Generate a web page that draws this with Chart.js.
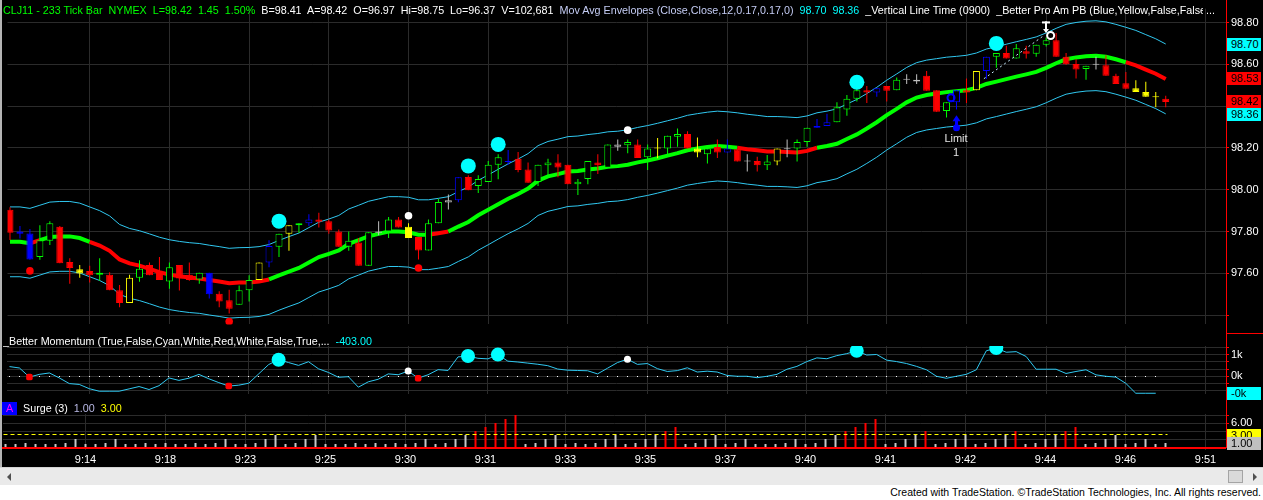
<!DOCTYPE html>
<html>
<head>
<meta charset="utf-8">
<title>CLJ11 - 233 Tick Bar</title>
<script src="https://cdn.jsdelivr.net/npm/chart.js@4.4.1/dist/chart.umd.min.js"></script>
<style>
  html, body { margin:0; padding:0; background:#ffffff; overflow:hidden; }
  #stage { position:relative; width:1263px; height:500px; background:#ffffff;
           font-family:"Liberation Sans", Arial, Helvetica, sans-serif; font-size:11px; overflow:hidden; }
  #plotBg { position:absolute; left:0; top:0; width:1263px; height:467px; background:#000000; }
  #leftEdge { position:absolute; left:0; top:0; width:2px; height:467px; background:#b4b4b4; }
  canvas { position:absolute; left:0; }
  .t { position:absolute; white-space:pre; line-height:13px; height:13px; }
  .hd { position:absolute; white-space:pre; line-height:13px; height:13px; font-size:10.75px; overflow:hidden; }
  .box { position:absolute; left:1227px; width:34px; height:13px; line-height:13px; color:#000000;
         text-indent:4px; white-space:pre; overflow:hidden; }
  #scroll { position:absolute; left:0; top:467px; width:1263px; height:18px; background:#eaeaea;
            border-top:1px solid #d4d4d4; box-sizing:border-box; }
  #arrL { position:absolute; left:7px; top:5px; width:0; height:0; border-top:4px solid transparent;
          border-bottom:4px solid transparent; border-right:4px solid #505050; }
  #arrR { position:absolute; left:1253px; top:5px; width:0; height:0; border-top:4px solid transparent;
          border-bottom:4px solid transparent; border-left:4px solid #505050; }
  #thumb { position:absolute; left:1228px; top:2px; width:15px; height:13px; background:#dadada;
           border:1px solid #a4a4a4; box-sizing:border-box; }
</style>
</head>
<body>
<div id="stage">
  <div id="plotBg"></div>
  <canvas id="cPrice" width="1263" height="333" style="top:0px"></canvas>
  <canvas id="cMom" width="1263" height="70" style="top:333px"></canvas>
  <canvas id="cSurge" width="1263" height="64" style="top:403px"></canvas>
  <div id="leftEdge"></div>

  <!-- price panel header -->
  <div class="hd" style="left:3px;top:4px;width:1200px;color:#ffffff"><span style="color:#00ff00">CLJ11 - 233 Tick Bar  NYMEX  L=98.42  1.45  1.50%</span>  B=98.41  A=98.42  O=96.97  Hi=98.75  Lo=96.37  V=102,681  <span style="color:#c4ccf4">Mov Avg Envelopes (Close,Close,12,0.17,0.17,0)</span>  <span style="color:#00ffff">98.70  98.36</span>  _Vertical Line Time (0900)  _Better Pro Am PB (Blue,Yellow,False,False,True)</div>
  <div class="hd" style="left:1206px;top:4px;color:#ffffff">...</div>

  <!-- momentum panel header -->
  <div class="hd" style="left:3px;top:335px;color:#ffffff">_Better Momentum (True,False,Cyan,White,Red,White,False,True,...  <span style="color:#00ffff">-403.00</span></div>

  <!-- surge panel header -->
  <div class="hd" style="left:2px;top:402px;width:15px;text-align:center;background:#0000ff;color:#ff00ff">A</div>
  <div class="hd" style="left:23px;top:402px;color:#ffffff">Surge (3)  <span style="color:#b8b8e4">1.00</span>  <span style="color:#ffff00">3.00</span></div>

  <div id="scroll"><div id="arrL"></div><div id="thumb"></div><div id="arrR"></div></div>
  <div class="t" style="right:2px;top:486px;color:#000000;font-size:10.5px">Created with TradeStation. ©TradeStation Technologies, Inc. All rights reserved.</div>
</div>

<script>
// ---------------- data ----------------
const xLabels = ['9:14','9:18','9:23','9:25','9:30','9:31','9:33','9:35','9:37','9:40','9:41','9:42','9:44','9:46','9:51'];
const xTickEvery = 8;

const opens = [
  97.905, 97.800, 97.791, 97.678, 97.756, 97.823, 97.655, 97.620, 97.611, 97.593,
  97.594, 97.520, 97.458, 97.579, 97.640, 97.611, 97.561, 97.640, 97.594, 97.571,
  97.603, 97.503, 97.472, 97.450, 97.520, 97.568, 97.652, 97.728, 97.790, 97.830,
  97.840, 97.858, 97.850, 97.800, 97.728, 97.748, 97.636, 97.794, 97.800, 97.858,
  97.823, 97.774, 97.710, 97.840, 97.939, 97.950, 98.061, 98.018, 98.037, 98.120,
  98.133, 98.148, 98.097, 98.037, 98.117, 98.130, 98.120, 98.026, 98.052, 98.130,
  98.105, 98.206, 98.213, 98.216, 98.156, 98.197, 98.197, 98.254, 98.267, 98.197,
  98.170, 98.204, 98.178, 98.194, 98.135, 98.137, 98.117, 98.135, 98.194, 98.197,
  98.229, 98.297, 98.305, 98.323, 98.384, 98.435, 98.476, 98.465, 98.496, 98.476,
  98.526, 98.518, 98.545, 98.476, 98.377, 98.418, 98.476, 98.476, 98.568, 98.636,
  98.654, 98.628, 98.662, 98.651, 98.694, 98.715, 98.636, 98.602, 98.578, 98.598,
  98.595, 98.545, 98.509, 98.486, 98.468, 98.445, 98.435
];
const highs = [
  97.916, 97.827, 97.812, 97.830, 97.850, 97.827, 97.672, 97.640, 97.636, 97.672,
  97.605, 97.544, 97.594, 97.663, 97.652, 97.678, 97.652, 97.640, 97.652, 97.603,
  97.603, 97.515, 97.522, 97.542, 97.591, 97.652, 97.759, 97.790, 97.830, 97.840,
  97.883, 97.890, 97.858, 97.810, 97.800, 97.769, 97.797, 97.850, 97.870, 97.870,
  97.840, 97.774, 97.858, 97.957, 97.977, 98.060, 98.070, 98.069, 98.137, 98.170,
  98.190, 98.180, 98.130, 98.120, 98.148, 98.170, 98.120, 98.052, 98.137, 98.170,
  98.216, 98.240, 98.240, 98.240, 98.216, 98.247, 98.258, 98.293, 98.280, 98.250,
  98.197, 98.240, 98.240, 98.194, 98.170, 98.158, 98.166, 98.197, 98.240, 98.240,
  98.297, 98.339, 98.364, 98.418, 98.453, 98.496, 98.496, 98.486, 98.496, 98.537,
  98.552, 98.552, 98.568, 98.476, 98.418, 98.476, 98.532, 98.568, 98.636, 98.654,
  98.689, 98.697, 98.689, 98.694, 98.728, 98.750, 98.654, 98.624, 98.593, 98.636,
  98.643, 98.555, 98.563, 98.524, 98.517, 98.468, 98.450
];
const lows = [
  97.760, 97.767, 97.665, 97.665, 97.736, 97.649, 97.550, 97.579, 97.556, 97.565,
  97.520, 97.438, 97.458, 97.560, 97.591, 97.568, 97.527, 97.518, 97.565, 97.550,
  97.480, 97.438, 97.408, 97.450, 97.466, 97.568, 97.629, 97.678, 97.708, 97.794,
  97.827, 97.820, 97.790, 97.728, 97.708, 97.636, 97.636, 97.782, 97.769, 97.820,
  97.769, 97.667, 97.710, 97.840, 97.906, 97.940, 97.998, 97.984, 98.037, 98.050,
  98.120, 98.084, 98.033, 98.018, 98.069, 98.060, 98.026, 97.975, 98.026, 98.075,
  98.105, 98.186, 98.175, 98.152, 98.094, 98.151, 98.166, 98.206, 98.197, 98.156,
  98.125, 98.152, 98.178, 98.135, 98.087, 98.087, 98.094, 98.117, 98.156, 98.135,
  98.206, 98.297, 98.305, 98.323, 98.354, 98.422, 98.415, 98.445, 98.422, 98.476,
  98.506, 98.506, 98.473, 98.373, 98.346, 98.384, 98.415, 98.476, 98.530, 98.583,
  98.628, 98.628, 98.628, 98.636, 98.685, 98.636, 98.598, 98.532, 98.526, 98.575,
  98.545, 98.506, 98.483, 98.468, 98.445, 98.395, 98.395
];
const closes = [
  97.795, 97.790, 97.667, 97.759, 97.840, 97.649, 97.626, 97.600, 97.591, 97.603,
  97.520, 97.458, 97.579, 97.622, 97.591, 97.568, 97.629, 97.576, 97.568, 97.603,
  97.500, 97.466, 97.431, 97.520, 97.568, 97.652, 97.731, 97.790, 97.830, 97.840,
  97.858, 97.847, 97.805, 97.728, 97.756, 97.636, 97.797, 97.800, 97.858, 97.820,
  97.769, 97.710, 97.840, 97.942, 97.950, 98.060, 97.998, 98.052, 98.120, 98.156,
  98.137, 98.094, 98.033, 98.120, 98.130, 98.107, 98.026, 98.038, 98.137, 98.117,
  98.216, 98.216, 98.229, 98.152, 98.197, 98.201, 98.258, 98.267, 98.197, 98.178,
  98.197, 98.178, 98.197, 98.135, 98.139, 98.117, 98.135, 98.197, 98.197, 98.229,
  98.297, 98.305, 98.323, 98.395, 98.435, 98.476, 98.465, 98.486, 98.473, 98.526,
  98.529, 98.526, 98.473, 98.373, 98.418, 98.476, 98.465, 98.568, 98.636, 98.654,
  98.628, 98.677, 98.651, 98.694, 98.715, 98.636, 98.600, 98.575, 98.593, 98.600,
  98.545, 98.506, 98.483, 98.468, 98.445, 98.442, 98.420
];
// paint-bar class of every bar: G green, R red, B blue, Y yellow, W grey
const barPaint = ('RBBGGRRYRG' + 'RRYGRRGRRG' + 'BRRGGYBGYG' + 'BRRRGRGWGR' + 'YRGGWBRGGG' +
                  'BRRGGRRGGR' + 'GWGRGYGGRY' + 'GRBRWRGYWG' + 'GBBGGGRBRG' + 'WWRRGBRYBG' +
                  'RGRGGRRRGW' + 'RRRYYYR').split('');

const maLine = [
  97.751, 97.751, 97.744, 97.759, 97.774, 97.777, 97.777, 97.769, 97.751, 97.733,
  97.708, 97.667, 97.648, 97.637, 97.622, 97.606, 97.594, 97.586, 97.580, 97.576,
  97.568, 97.561, 97.553, 97.556, 97.557, 97.561, 97.571, 97.591, 97.609, 97.626,
  97.652, 97.678, 97.693, 97.710, 97.741, 97.759, 97.778, 97.789, 97.800, 97.800,
  97.797, 97.785, 97.785, 97.792, 97.800, 97.824, 97.846, 97.878, 97.904, 97.931,
  97.957, 97.980, 98.006, 98.044, 98.064, 98.075, 98.087, 98.090, 98.097, 98.102,
  98.110, 98.113, 98.120, 98.131, 98.140, 98.151, 98.163, 98.175, 98.189, 98.197,
  98.204, 98.209, 98.206, 98.201, 98.194, 98.189, 98.183, 98.183, 98.181, 98.178,
  98.186, 98.201, 98.209, 98.220, 98.243, 98.265, 98.293, 98.323, 98.357, 98.387,
  98.418, 98.441, 98.453, 98.460, 98.467, 98.471, 98.476, 98.487, 98.506, 98.517,
  98.529, 98.541, 98.552, 98.564, 98.583, 98.605, 98.624, 98.633, 98.639, 98.641,
  98.636, 98.624, 98.610, 98.595, 98.575, 98.555, 98.530
];
// u = drawn green, d = drawn red
const maTrend = ('uuuduuuuud' + 'dddddddddd' + 'ddddddduuu' + 'uuuuuuuuuu' + 'uuudduuuuu' +
                 'uuuuuuuuuu' + 'uuuuuuuuuu' + 'uuuudddddd' + 'dduuuuuuuu' + 'uuuuuuuuuu' +
                 'uuuuuuuuuu' + 'uuudddd').split('');
const upperEnv = [
  97.918, 97.918, 97.911, 97.926, 97.941, 97.944, 97.944, 97.936, 97.918, 97.900,
  97.875, 97.834, 97.815, 97.804, 97.789, 97.773, 97.761, 97.753, 97.747, 97.743,
  97.735, 97.728, 97.720, 97.723, 97.724, 97.728, 97.738, 97.758, 97.776, 97.793,
  97.819, 97.845, 97.860, 97.877, 97.908, 97.926, 97.945, 97.956, 97.967, 97.967,
  97.964, 97.952, 97.952, 97.959, 97.967, 97.991, 98.013, 98.045, 98.071, 98.098,
  98.124, 98.147, 98.173, 98.211, 98.231, 98.242, 98.254, 98.257, 98.264, 98.269,
  98.277, 98.280, 98.287, 98.298, 98.307, 98.318, 98.330, 98.342, 98.356, 98.364,
  98.371, 98.376, 98.373, 98.368, 98.361, 98.356, 98.350, 98.350, 98.348, 98.345,
  98.353, 98.368, 98.376, 98.387, 98.410, 98.432, 98.460, 98.490, 98.524, 98.554,
  98.585, 98.608, 98.620, 98.627, 98.634, 98.638, 98.643, 98.654, 98.673, 98.684,
  98.696, 98.708, 98.719, 98.731, 98.750, 98.772, 98.791, 98.800, 98.806, 98.808,
  98.803, 98.791, 98.777, 98.762, 98.742, 98.722, 98.697
];
const lowerEnv = [
  97.584, 97.584, 97.577, 97.592, 97.607, 97.610, 97.610, 97.602, 97.584, 97.566,
  97.541, 97.500, 97.481, 97.470, 97.455, 97.439, 97.427, 97.419, 97.413, 97.409,
  97.401, 97.394, 97.386, 97.389, 97.390, 97.394, 97.404, 97.424, 97.442, 97.459,
  97.485, 97.511, 97.526, 97.543, 97.574, 97.592, 97.611, 97.622, 97.633, 97.633,
  97.630, 97.618, 97.618, 97.625, 97.633, 97.657, 97.679, 97.711, 97.737, 97.764,
  97.790, 97.813, 97.839, 97.877, 97.897, 97.908, 97.920, 97.923, 97.930, 97.935,
  97.943, 97.946, 97.953, 97.964, 97.973, 97.984, 97.996, 98.008, 98.022, 98.030,
  98.037, 98.042, 98.039, 98.034, 98.027, 98.022, 98.016, 98.016, 98.014, 98.011,
  98.019, 98.034, 98.042, 98.053, 98.076, 98.098, 98.126, 98.156, 98.190, 98.220,
  98.251, 98.274, 98.286, 98.293, 98.300, 98.304, 98.309, 98.320, 98.339, 98.350,
  98.362, 98.374, 98.385, 98.397, 98.416, 98.438, 98.457, 98.466, 98.472, 98.474,
  98.469, 98.457, 98.443, 98.428, 98.408, 98.388, 98.363
];

// signal dots on the price panel
const cyanSignalBars = [27, 46, 49, 85, 99];
const cyanSignalLevels = [97.850, 98.114, 98.217, 98.514, 98.700];
const whiteSignalBars = [40, 62];
const whiteSignalLevels = [97.876, 98.285];
const redSignalBars = [2, 22, 41];
const redSignalLevels = [97.612, 97.370, 97.626];

// trade marks
const entryBar = 95, entryTip = 98.356, entryBase = 98.296;
const entryRingBar = 94.45, entryRingLevel = 98.440;
const exitBar = 104, exitTop = 98.805, exitBottom = 98.754;
const exitRingBar = 104.45, exitRingLevel = 98.738;
const tradePathBars = [97.75, 103.75];
const tradePathLevels = [98.531, 98.737];
const entryText = ['Limit', '1'];

// _Better Momentum
const momentum = [
  225, 192, -22, 42, 75, -42, -175, -195, -295, -355,
  -355, -355, -300, -245, -315, -225, -42, -100, -48, 42,
  -62, -152, -233, -213, -167, 53, 273, 387, 320, 253,
  340, 173, 87, -27, -13, -260, -133, -73, 53, 33,
  120, -47, 33, 153, 133, 453, 473, 420, 407, 507,
  353, 333, 307, 280, 247, 167, 140, 133, 127, 53,
  187, 320, 400, 277, 297, 177, 110, 130, 197, 97,
  117, 97, 17, -3, -3, -37, -3, 43, 163, 230,
  343, 430, 410, 483, 530, 597, 497, 510, 377, 343,
  297, 230, 150, -3, -50, -3, 43, 150, 597, 663,
  563, 577, 463, 163, 163, 163, 63, 110, 150, 30,
  -3, -23, -170, -403, -403, -403
];
const momentumZero = 0;

// Surge (3)
const surge = [
  0, 0, 1, 0, 0, 0, 1, 2, 0, 0,
  1, 2, 0, 0, 1, 0, 1, 0, 0, 1,
  0, 1, 2, 0, 0, 1, 2, 3, 0, 1,
  2, 3, 0, 0, 0, 1, 0, 1, 0, 1,
  0, 1, 2, 0, 1, 2, 3, 4, 5, 6,
  7, 8, 0, 1, 2, 3, 0, 1, 0, 1,
  2, 3, 0, 1, 2, 3, 4, 5, 0, 1,
  2, 3, 0, 1, 2, 0, 0, 0, 1, 2,
  0, 1, 2, 3, 4, 5, 6, 7, 0, 1,
  2, 3, 4, 0, 1, 2, 3, 0, 1, 2,
  3, 4, 0, 1, 2, 3, 4, 5, 0, 1,
  2, 3, 0, 1, 2, 0, 1
];
const surgeThreshold = 3;

// axis ticks
const priceTicks = [97.4, 97.6, 97.8, 98.0, 98.2, 98.4, 98.6, 98.8];
const momTicks = [-1000/3, -500/3, 0, 500/3, 1000/3, 500, 2000/3];
const surgeTicks = [2, 4, 6, 8];

// ---------------- styling / layout ----------------
const FONT = '"Liberation Sans", Arial, Helvetica, sans-serif';
const GRID = '#2b2b2b', RED = '#ff0000', GREEN = '#00ff00', CYAN = '#00ffff', BAND = '#30c8f0',
      YELLOW = '#ffff00', WHITE = '#ffffff', BLUE = '#0000ff', GREY = '#c0c0c0';
const PAINT = { G: GREEN, R: RED, B: BLUE, Y: YELLOW, W: GREY };
const AXIS_W = 37;
const X_MIN = -0.25, X_MAX = 122.05;
const P_MAX = 98.8664, P_MIN = 97.3561;
const M_MAX = 710, M_MIN = -430;
const S_MAX = 8.25, S_MIN = 0;

Chart.defaults.font.family = FONT;
Chart.defaults.font.size = 11;
Chart.defaults.color = WHITE;

const idx = closes.map((_, i) => i);
const xTicks = xLabels.map((_, k) => (k + 1) * xTickEvery);
const barColor = barPaint.map(p => PAINT[p]);
const bodyFill = idx.map(i => (closes[i] < opens[i] || Math.abs(closes[i] - opens[i]) < 0.006) ? barColor[i] : '#000000');
const fmtK = v => (v < 0 ? '-' : '') + Math.abs(Math.round(v / 1000)) + 'k';

function xAxis(showLabels) {
  return {
    type: 'linear', min: X_MIN, max: X_MAX, offset: false,
    grid: { color: GRID, offset: false, drawTicks: showLabels, tickLength: 3, tickColor: GRID },
    border: { display: false },
    ticks: { display: showLabels, color: WHITE, padding: 3, maxRotation: 0, autoSkip: false,
             callback: v => { const k = xTicks.indexOf(v); return k >= 0 ? xLabels[k] : ''; } },
    afterBuildTicks: s => { s.ticks = xTicks.map(v => ({ value: v })); },
    afterFit: s => { s.height = showLabels ? 20 : 0; }
  };
}
function yAxis(min, max, ticks, fmt) {
  return {
    type: 'linear', position: 'right', min: min, max: max,
    grid: { color: GRID, drawTicks: true, tickLength: 3, tickColor: RED },
    border: { display: false },
    ticks: { color: WHITE, padding: 2, autoSkip: false, callback: fmt },
    afterBuildTicks: s => { s.ticks = ticks.map(v => ({ value: v })); },
    afterFit: s => { s.width = AXIS_W; }
  };
}
function baseOptions(padTop, xCfg, yCfg) {
  return {
    responsive: false, maintainAspectRatio: false, animation: false, devicePixelRatio: 1, events: [],
    layout: { padding: { left: 3, top: padTop, right: 0, bottom: 0 } },
    plugins: { legend: { display: false }, tooltip: { enabled: false } },
    scales: { x: xCfg, y: yCfg }
  };
}
function markerSet(bars, values, radius, color, style, order) {
  return { type: 'line', showLine: false, data: bars.map((b, k) => ({ x: b, y: values[k] })),
           pointRadius: radius, pointBackgroundColor: color, pointBorderWidth: 0,
           pointStyle: style || 'circle', clip: 0, order: order };
}
const axisLine = (fullHeight) => ({
  id: 'axisLine',
  afterDraw(chart) {
    const c = chart.ctx;
    c.save();
    c.fillStyle = RED;
    c.fillRect(Math.round(chart.chartArea.right), 0, 1, fullHeight ? chart.height : chart.chartArea.bottom + 1);
    c.restore();
  }
});

// ---------------- price panel ----------------
const pts = arr => idx.map(i => ({ x: i, y: arr[i] }));
const priceChart = new Chart(document.getElementById('cPrice'), {
  type: 'bar',
  data: { datasets: [
    { type: 'line', data: pts(upperEnv), borderColor: BAND, borderWidth: 1, pointRadius: 0, order: 7 },
    { type: 'line', data: pts(lowerEnv), borderColor: BAND, borderWidth: 1, pointRadius: 0, order: 7 },
    { type: 'line', data: pts(maLine), borderColor: GREEN, borderWidth: 4, pointRadius: 0, order: 6,
      segment: { borderColor: c => maTrend[c.p1DataIndex] === 'd' ? RED : GREEN } },
    { type: 'bar', data: idx.map(i => ({ x: i, y: [lows[i], highs[i]] })), backgroundColor: barColor,
      borderWidth: 0, barThickness: 1, grouped: false, inflateAmount: 0, order: 5 },
    { type: 'bar', data: idx.map(i => ({ x: i, y: [Math.min(opens[i], closes[i]), Math.max(opens[i], closes[i])] })),
      backgroundColor: bodyFill, borderColor: barColor, borderWidth: 1, borderSkipped: false,
      barThickness: 7, minBarLength: 1, grouped: false, inflateAmount: 0, order: 4 },
    markerSet(cyanSignalBars, cyanSignalLevels, 7.5, CYAN, 'circle', 2),
    markerSet(whiteSignalBars, whiteSignalLevels, 3.8, WHITE, 'circle', 1),
    markerSet(redSignalBars, redSignalLevels, 3.8, RED, 'circle', 1)
  ]},
  options: baseOptions(3, xAxis(false),
    yAxis(P_MIN, P_MAX, priceTicks, v => v < 97.5 ? '' : Number(v).toFixed(2))),
  plugins: [axisLine(true), {
    id: 'tradeMarks',
    afterDatasetsDraw(chart) {
      const c = chart.ctx, xs = chart.scales.x, ys = chart.scales.y;
      c.save();
      // dashed trade path
      c.strokeStyle = '#c8ecff'; c.lineWidth = 1; c.setLineDash([2, 3]);
      c.beginPath();
      c.moveTo(xs.getPixelForValue(tradePathBars[0]), ys.getPixelForValue(tradePathLevels[0]));
      c.lineTo(xs.getPixelForValue(tradePathBars[1]), ys.getPixelForValue(tradePathLevels[1]));
      c.stroke(); c.setLineDash([]);
      // entry arrow
      const ex = xs.getPixelForValue(entryBar);
      const tipY = ys.getPixelForValue(entryTip), baseY = ys.getPixelForValue(entryBase);
      c.fillStyle = BLUE;
      c.beginPath(); c.moveTo(ex, tipY); c.lineTo(ex - 4, tipY + 6); c.lineTo(ex + 4, tipY + 6); c.closePath(); c.fill();
      c.fillRect(ex - 1.5, tipY + 5, 3, baseY - tipY - 5);
      c.beginPath(); c.arc(ex, baseY, 3.5, 0, Math.PI * 2); c.fill();
      c.strokeStyle = BLUE; c.lineWidth = 2;
      c.beginPath(); c.arc(xs.getPixelForValue(entryRingBar), ys.getPixelForValue(entryRingLevel), 3.5, 0, Math.PI * 2); c.stroke();
      // exit marker
      const xx = Math.round(xs.getPixelForValue(exitBar));
      const tY = ys.getPixelForValue(exitTop), bY = ys.getPixelForValue(exitBottom);
      c.fillStyle = WHITE;
      c.fillRect(xx - 4, tY, 8, 2);
      c.fillRect(xx - 1, tY, 2, bY - tY);
      c.beginPath(); c.moveTo(xx - 3, bY - 3); c.lineTo(xx + 3, bY - 3); c.lineTo(xx, bY + 1); c.closePath(); c.fill();
      c.strokeStyle = WHITE; c.lineWidth = 2;
      c.beginPath(); c.arc(xs.getPixelForValue(exitRingBar), ys.getPixelForValue(exitRingLevel), 3.5, 0, Math.PI * 2); c.stroke();
      c.restore();
    }
  }]
});

// ---------------- momentum panel ----------------
const momIdx = momentum.map((_, i) => i);
const momChart = new Chart(document.getElementById('cMom'), {
  type: 'line',
  data: { datasets: [
    { type: 'line', data: momIdx.map(i => ({ x: i, y: momentum[i] })), borderColor: BAND, borderWidth: 1, pointRadius: 0, order: 5 },
    markerSet(cyanSignalBars, cyanSignalBars.map(b => momentum[b]), 7, CYAN, 'circle', 2),
    markerSet(whiteSignalBars, whiteSignalBars.map(b => momentum[b]), 3.5, WHITE, 'circle', 1),
    markerSet(redSignalBars, redSignalBars.map(b => momentum[b]), 3.8, RED, 'rectRounded', 1)
  ]},
  options: baseOptions(13, xAxis(false),
    yAxis(M_MIN, M_MAX, momTicks, v => Math.abs(v % 500) < 1e-6 ? fmtK(v) : '')),
  plugins: [axisLine(true), {
    id: 'momDecor',
    beforeDatasetsDraw(chart) {
      const c = chart.ctx, xs = chart.scales.x, ys = chart.scales.y;
      const zy = Math.floor(ys.getPixelForValue(momentumZero));
      c.save();
      c.fillStyle = WHITE;
      momIdx.forEach(i => { c.fillRect(Math.floor(xs.getPixelForValue(i)), zy, 1, 1); });
      c.restore();
    },
    afterDraw(chart) {
      const c = chart.ctx;
      c.save(); c.fillStyle = RED;
      c.fillRect(Math.round(chart.chartArea.right), 0, AXIS_W, 1);
      c.restore();
    }
  }]
});

// ---------------- surge panel ----------------
const surgeChart = new Chart(document.getElementById('cSurge'), {
  type: 'bar',
  data: { datasets: [
    { type: 'bar', data: idx.map(i => ({ x: i, y: surge[i] })),
      backgroundColor: surge.map(v => v > surgeThreshold ? RED : '#c8c8c8'),
      borderWidth: 0, barThickness: 2, minBarLength: 3, grouped: false, inflateAmount: 0 }
  ]},
  options: baseOptions(11, xAxis(true),
    yAxis(S_MIN, S_MAX, surgeTicks, v => (v === 6 ? Number(v).toFixed(2) : ''))),
  plugins: [axisLine(false), {
    id: 'surgeDecor',
    afterDatasetsDraw(chart) {
      const c = chart.ctx, xs = chart.scales.x, ys = chart.scales.y;
      c.save();
      const ty = Math.round(ys.getPixelForValue(surgeThreshold)) - 0.5;
      c.strokeStyle = YELLOW; c.lineWidth = 1; c.setLineDash([4, 3]);
      c.beginPath(); c.moveTo(xs.getPixelForValue(0) - 2, ty); c.lineTo(xs.getPixelForValue(idx.length - 1) + 2, ty); c.stroke();
      c.setLineDash([]);
      c.fillStyle = RED;
      const by = Math.round(ys.getPixelForValue(0));
      c.fillRect(2, by, Math.round(chart.chartArea.right) - 2, 2);
      c.restore();
    }
  }]
});

// ---------------- last-value boxes on the axes & entry label ----------------
const stage = document.getElementById('stage');
function addBox(chart, canvasTop, value, bg, text) {
  const yPix = chart.scales.y.getPixelForValue(value) + canvasTop;
  const d = document.createElement('div');
  d.className = 'box';
  d.style.top = Math.round(yPix - 6.5) + 'px';
  d.style.background = bg;
  d.textContent = text;
  stage.appendChild(d);
  return d;
}
let lastBottom = -100;
[[upperEnv[upperEnv.length - 1], CYAN], [maLine[maLine.length - 1], RED],
 [closes[closes.length - 1], RED], [lowerEnv[lowerEnv.length - 1], CYAN]].forEach(([v, bg]) => {
  const d = addBox(priceChart, 0, v, bg, v.toFixed(2));
  let top = parseFloat(d.style.top);
  if (top < lastBottom) { top = lastBottom; d.style.top = top + 'px'; }
  lastBottom = top + 13;
});
addBox(momChart, 333, momentum[momentum.length - 1], CYAN, fmtK(momentum[momentum.length - 1]));
addBox(surgeChart, 403, surgeThreshold, YELLOW, surgeThreshold.toFixed(2));
addBox(surgeChart, 403, surge[surge.length - 1], GREY, surge[surge.length - 1].toFixed(2));

entryText.forEach((txt, k) => {
  const d = document.createElement('div');
  d.className = 't';
  d.style.left = Math.round(priceChart.scales.x.getPixelForValue(entryBar) - 20) + 'px';
  d.style.width = '40px';
  d.style.textAlign = 'center';
  d.style.color = '#e4e4e4';
  d.style.top = Math.round(priceChart.scales.y.getPixelForValue(entryBase) + 4 + k * 14) + 'px';
  d.textContent = txt;
  stage.appendChild(d);
});
</script>
</body>
</html>
